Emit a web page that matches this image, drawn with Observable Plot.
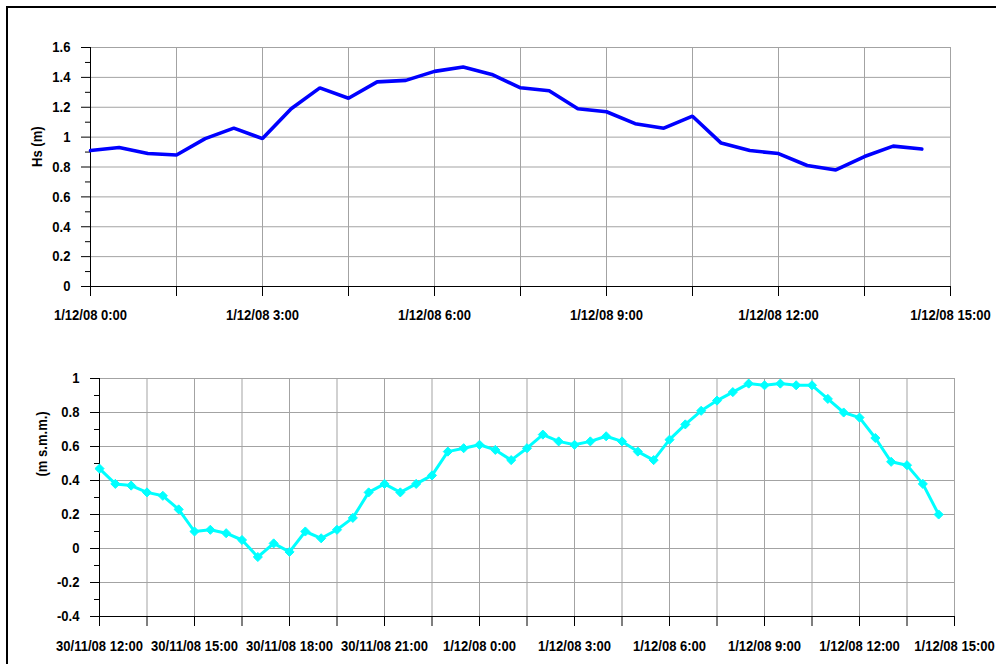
<!DOCTYPE html>
<html>
<head>
<meta charset="utf-8">
<script src="https://cdn.jsdelivr.net/npm/d3@7"></script>
<script src="https://cdn.jsdelivr.net/npm/@observablehq/plot@0.6"></script>
<style>
  body { margin: 0; background: #fff; }
  #page { position: relative; width: 996px; height: 664px; overflow: hidden; background: #fff; }
  #page svg { position: absolute; left: 0; }
  #frame { position: absolute; left: 6px; top: 6px; width: 1100px; height: 800px;
           border-top: 2px solid #000; border-left: 2px solid #000; z-index: 2; pointer-events: none; }
</style>
</head>
<body>
<div id="page"><div id="frame"></div></div>
<script>
// Significant wave height Hs (m), half-hourly readings from 1/12/08 0:00
const hsStart = "1/12/08 0:00";
const hsValues = [
  0.91, 0.93, 0.89, 0.88, 0.99, 1.06, 0.99, 1.19, 1.33, 1.26,
  1.37, 1.38, 1.44, 1.47, 1.42, 1.33, 1.31, 1.19, 1.17, 1.09,
  1.06, 1.14, 0.96, 0.91, 0.89, 0.81, 0.78, 0.87, 0.94, 0.92
];
const hsTickLabels = ["1/12/08 0:00", "1/12/08 3:00", "1/12/08 6:00", "1/12/08 9:00", "1/12/08 12:00", "1/12/08 15:00"];
const hsYTicks = [0, 0.2, 0.4, 0.6, 0.8, 1, 1.2, 1.4, 1.6];
const hsYMinor = [0.1, 0.3, 0.5, 0.7, 0.9, 1.1, 1.3, 1.5];

// Sea level (m s.m.m.), half-hourly readings from 30/11/08 12:00
const levelStart = "30/11/08 12:00";
const levelValues = [
  0.47, 0.38, 0.37, 0.33, 0.31, 0.23, 0.10, 0.11, 0.09, 0.05,
  -0.05, 0.03, -0.02, 0.10, 0.06, 0.11, 0.18, 0.33, 0.38, 0.33,
  0.38, 0.43, 0.57, 0.59, 0.61, 0.58, 0.52, 0.59, 0.67, 0.63,
  0.61, 0.63, 0.66, 0.63, 0.57, 0.52, 0.64, 0.73, 0.81, 0.87,
  0.92, 0.97, 0.96, 0.97, 0.96, 0.96, 0.88, 0.80, 0.77, 0.65,
  0.51, 0.49, 0.38, 0.20
];
const levelTickLabels = ["30/11/08 12:00", "30/11/08 15:00", "30/11/08 18:00", "30/11/08 21:00", "1/12/08 0:00",
                         "1/12/08 3:00", "1/12/08 6:00", "1/12/08 9:00", "1/12/08 12:00", "1/12/08 15:00"];
const levelYTicks = [-0.4, -0.2, 0, 0.2, 0.4, 0.6, 0.8, 1];
const levelYMinor = [-0.3, -0.1, 0.1, 0.3, 0.5, 0.7, 0.9];

const parseStamp = d3.utcParse("%d/%m/%y %H:%M");
const HALF_HOUR = 30 * 60 * 1000;
const GRID_STEP = 90 * 60 * 1000;
const FONT = "'Liberation Sans', Arial, Helvetica, sans-serif";
const TEXT_WIDTH = 0.87; // narrow bold lettering
const fmtY = d => String(Math.round(d * 10) / 10);

// Squeeze every label horizontally about its own anchor point.
function condense(svg, k) {
  svg.querySelectorAll("text").forEach(t => {
    const tr = t.getAttribute("transform") || "";
    if (t.hasAttribute("x")) {
      const x = parseFloat(t.getAttribute("x"));
      if (!isNaN(x)) t.setAttribute("x", x / k);
    }
    t.setAttribute("transform", `${tr} scale(${k},1)`);
  });
}

function chart(cfg) {
  const t0 = parseStamp(cfg.start);
  const series = cfg.values.map((v, i) => ({t: new Date(+t0 + i * HALF_HOUR), v}));
  const labelTimes = cfg.tickLabels.map(parseStamp);
  const labelByTime = new Map(labelTimes.map((d, i) => [+d, cfg.tickLabels[i]]));
  const tStart = labelTimes[0], tEnd = labelTimes[labelTimes.length - 1];
  const gridTimes = d3.range(+tStart, +tEnd + 1, GRID_STEP).map(ms => new Date(ms));
  const yDomain = [cfg.yTicks[0], cfg.yTicks[cfg.yTicks.length - 1]];

  const marks = [
    Plot.gridY(cfg.yTicks, {stroke: "#a3a3a3", strokeOpacity: 1}),
    Plot.gridX(gridTimes, {stroke: "#a3a3a3", strokeOpacity: 1}),
    Plot.ruleX([tStart], {stroke: "#000"}),
    Plot.ruleY([yDomain[0]], {stroke: "#000"}),
    Plot.axisY(cfg.yTicks, {tickSize: 9, tickPadding: 11, tickFormat: fmtY, fontSize: 15, fontWeight: "bold", fill: "#000"}),
    Plot.axisY(cfg.yMinor, {tickSize: 5, tickFormat: () => ""}),
    Plot.axisX(gridTimes, {tickSize: 10, tickFormat: () => ""}),
    Plot.axisX(labelTimes, {tickSize: 0, tickPadding: cfg.labelPad, tickFormat: d => labelByTime.get(+d),
                            fontSize: 15, fontWeight: "bold", fill: "#000"}),
    Plot.line(series, {x: "t", y: "v", stroke: cfg.color, strokeWidth: cfg.lineWidth, strokeLinejoin: "miter"})
  ];
  if (cfg.markers) {
    marks.push(Plot.dot(series, {x: "t", y: "v", symbol: "diamond2", r: 4.1, fill: cfg.color, stroke: cfg.color, strokeWidth: 1}));
  }
  marks.push(Plot.text([cfg.label], {text: d => d, frameAnchor: "left", rotate: -90, dx: cfg.labelDx, dy: cfg.labelDy,
                                     fontSize: 15, fontWeight: "bold", fill: "#000"}));

  const svg = Plot.plot({
    width: 996,
    height: cfg.height,
    marginTop: cfg.margin[0], marginRight: cfg.margin[1], marginBottom: cfg.margin[2], marginLeft: cfg.margin[3],
    style: {fontFamily: FONT, background: "none", color: "#000", overflow: "visible"},
    x: {type: "utc", domain: [tStart, tEnd], label: null},
    y: {domain: yDomain, label: null},
    marks
  });
  condense(svg, TEXT_WIDTH);
  svg.style.top = cfg.top + "px";
  return svg;
}

const page = document.getElementById("page");
page.appendChild(chart({
  start: hsStart, values: hsValues, tickLabels: hsTickLabels, yTicks: hsYTicks, yMinor: hsYMinor,
  color: "#0000ff", lineWidth: 3.6, markers: false, label: "Hs (m)", labelDx: -53, labelDy: 0, labelPad: 23,
  top: 0, height: 330, margin: [47, 46, 44, 90]
}));
page.appendChild(chart({
  start: levelStart, values: levelValues, tickLabels: levelTickLabels, yTicks: levelYTicks, yMinor: levelYMinor,
  color: "#00ffff", lineWidth: 3, markers: true, label: "(m s.m.m.)", labelDx: -57, labelDy: -21, labelPad: 24,
  top: 330, height: 334, margin: [48, 42, 48, 99]
}));
</script>
</body>
</html>
